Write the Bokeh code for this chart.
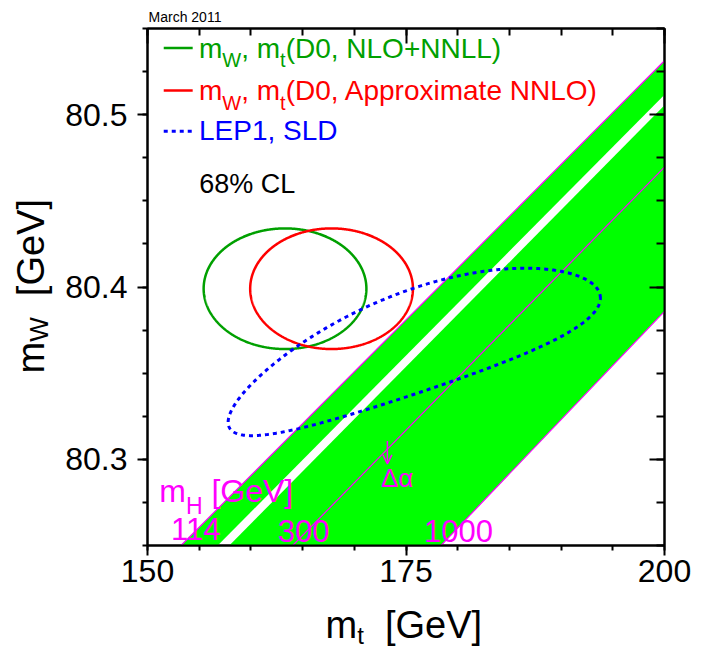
import numpy as np
from bokeh.plotting import figure
from bokeh.layouts import row, column
from bokeh.models import (Range1d, LinearAxis, FixedTicker, Label, Arrow, OpenHead,
                          CustomJSTickFormatter)
from bokeh.embed import file_html
from bokeh.resources import INLINE

# ---------------- data ----------------
mt_range = [150, 200]
mw_range = [80.25, 80.55]
mt_major_ticks = [150, 175, 200]
mt_minor_ticks = [150, 155, 160, 165, 170, 175, 180, 185, 190, 195, 200]
mw_major_ticks = [80.3, 80.4, 80.5]
mw_minor_ticks = [80.25, 80.275, 80.3, 80.325, 80.35, 80.375, 80.4, 80.425,
                  80.45, 80.475, 80.5, 80.525, 80.55]

# 68% CL contours: centre, half-extent in mt, half-extent in mW, correlation, bend
d0_nnll = dict(mt=163.3, mw=80.399, dmt=7.87, dmw=0.035, rho=0.0, bend=0.0)
d0_nnlo = dict(mt=167.8, mw=80.399, dmt=7.87, dmw=0.035, rho=0.0, bend=0.0)
lep_sld = dict(mt=175.8, mw=80.3576, dmt=18.0, dmw=0.0474, rho=0.76, bend=0.011)

# SM band edges: mt where edge meets mW=80.25, and mW where edge meets mt=200
band_edges = ["mH=114", "gap lower", "gap upper", "mH=300", "mH=1000"]
edge_mt_at_bottom = [153.24, 156.79, 157.91, 164.04, 178.38]
edge_mw_at_right = [80.5313, 80.5116, 80.5054, 80.4696, 80.3859]

mh_labels = ["114", "300", "1000"]
mh_label_mt = [152.27, 162.59, 176.74]
mh_label_mw = [80.2528, 80.2518, 80.2518]

# ---------------- style ----------------
FONT = "Liberation Sans"
GREEN_LINE = "#00a000"
GREEN_BAND = "#00ff00"
MAGENTA = "#ff00ff"
RED = "#ff0000"
BLUE = "#0000ff"
BASELINE_FIX = 0.37

FRAME = 517
PX_PER_MT = FRAME / (mt_range[1] - mt_range[0])
PX_PER_MW = FRAME / (mw_range[1] - mw_range[0])

AW = {' ': 278, ',': 278, '(': 333, ')': 333, '+': 584, '[': 278, ']': 278, '%': 889,
      'A': 667, 'C': 722, 'D': 722, 'E': 667, 'G': 778, 'H': 722, 'L': 556, 'M': 833,
      'N': 722, 'O': 778, 'P': 667, 'S': 667, 'V': 667, 'W': 944,
      'a': 556, 'c': 500, 'e': 556, 'h': 556, 'i': 222, 'm': 833, 'o': 556, 'p': 556,
      'r': 333, 't': 278, 'x': 500}


def text_width(s, size):
    return sum(AW.get(c, 556) for c in s) * size / 1000.0


def rich(fig, x, y, parts, color, kx, ky, angle=0):
    off = 0.0
    for txt, size, drop in parts:
        lead = len(txt) - len(txt.lstrip(" "))
        off += text_width(" " * lead, size)
        txt = txt.lstrip(" ")
        fix = BASELINE_FIX * size
        if angle == 0:
            lx, ly = x + off / kx, y + (fix - drop) / ky
        else:
            lx, ly = x + (drop - fix) / kx, y + off / ky
        fig.add_layout(Label(x=lx, y=ly, text=txt, text_font=FONT,
                             text_font_size=f"{size}px", text_color=color,
                             text_baseline="alphabetic", text_align="left",
                             angle=angle, angle_units="deg"))
        off += text_width(txt, size)


def blank_fig(w, h, x_range=None):
    f = figure(width=w, height=h,
               x_range=x_range if x_range is not None else Range1d(0, w),
               y_range=Range1d(0, h),
               output_backend="svg", toolbar_location=None,
               x_axis_type=None, y_axis_type=None,
               min_border_left=0, min_border_right=0, min_border_top=0, min_border_bottom=0)
    f.outline_line_color = None
    f.background_fill_color = "white"
    f.border_fill_color = "white"
    return f


# ---------------- main plot ----------------
YFIG_W = 60
MAIN_W = 640
LEFT_B = 87
TOP_H = 27
MAIN_TOP_B = 1
MAIN_BOTTOM_B = 55
MAIN_H = MAIN_TOP_B + FRAME + MAIN_BOTTOM_B
TOTAL_H = 652
X_H = TOTAL_H - TOP_H - MAIN_H
FRAME_LEFT_PAGE = YFIG_W + LEFT_B

p = figure(width=MAIN_W, height=MAIN_H,
           x_range=Range1d(*mt_range), y_range=Range1d(*mw_range),
           output_backend="svg", toolbar_location=None,
           min_border_left=LEFT_B, min_border_right=MAIN_W - LEFT_B - FRAME,
           min_border_top=MAIN_TOP_B, min_border_bottom=MAIN_BOTTOM_B)
p.grid.visible = False
p.outline_line_color = "black"
p.outline_line_width = 2
p.background_fill_color = "white"
p.border_fill_color = "white"

# ---- band ----
b = edge_mt_at_bottom
r = edge_mw_at_right
xs = [[b[0], mt_range[1], mt_range[1], b[1]],
      [b[2], mt_range[1], mt_range[1], b[4]]]
ys = [[mw_range[0], r[0], r[1], mw_range[0]],
      [mw_range[0], r[2], r[4], mw_range[0]]]
p.patches(xs, ys, fill_color=GREEN_BAND, line_color=None)
for i in (0, 3, 4):
    p.line([b[i], mt_range[1]], [mw_range[0], r[i]], line_color=MAGENTA, line_width=1.2)


# ---- contours ----
def contour(c):
    t = np.linspace(0, 2 * np.pi, 721)
    d = np.arccos(c["rho"])
    x = c["mt"] + c["dmt"] * np.cos(t)
    y = c["mw"] + c["dmw"] * np.cos(t - d) + c["bend"] * np.sin(t) ** 2
    return x, y


x, y = contour(d0_nnll)
p.line(x, y, line_color=GREEN_LINE, line_width=2.5)
x, y = contour(d0_nnlo)
p.line(x, y, line_color=RED, line_width=2.5)
x, y = contour(lep_sld)
p.line(x, y, line_color=BLUE, line_width=3, line_dash="4 4")

# ---- legend ----
p.line([151.57, 154.37], [80.5387, 80.5387], line_color=GREEN_LINE, line_width=2.5)
p.line([151.57, 154.37], [80.5140, 80.5140], line_color=RED, line_width=2.5)
p.line([151.57, 154.37], [80.4904, 80.4904], line_color=BLUE, line_width=3, line_dash="4 4")
K = (PX_PER_MT, PX_PER_MW)
rich(p, 154.98, 80.5326, [("m", 28, 0), ("W", 20, 9), (", m", 28, 0), ("t", 20, 9),
                           ("(D0, NLO+NNLL)", 28, 0)], GREEN_LINE, *K)
rich(p, 154.98, 80.5078, [("m", 28, 0), ("W", 20, 9), (", m", 28, 0), ("t", 20, 9),
                           ("(D0, Approximate NNLO)", 28, 0)], RED, *K)
rich(p, 154.98, 80.4850, [("LEP1, SLD", 28, 0)], BLUE, *K)
rich(p, 155.0, 80.4537, [("68% CL", 27, 0)], "black", *K)

# ---- mH annotations ----
rich(p, 151.14, 80.275, [("m", 32, 0), ("H", 23, 12), (" [GeV]", 32, 0)], MAGENTA, *K)
for lab, lx, ly in zip(mh_labels, mh_label_mt, mh_label_mw):
    rich(p, lx, ly, [(lab, 31, 0)], MAGENTA, *K)
p.add_layout(Arrow(x_start=173.2, y_start=80.3107, x_end=173.2, y_end=80.2974,
                   line_color=MAGENTA, line_width=1.5,
                   end=OpenHead(size=9, line_color=MAGENTA, line_width=1.5)))
rich(p, 172.58, 80.2837, [("Δα", 26, 0)], MAGENTA, *K)

# ---- axes ----
xt = FixedTicker(ticks=mt_major_ticks, minor_ticks=mt_minor_ticks)
yt = FixedTicker(ticks=mw_major_ticks, minor_ticks=mw_minor_ticks)
blank = CustomJSTickFormatter(code="return ''")


def style(ax, tin, tout, mtin, mtout):
    ax.axis_line_width = 2
    ax.major_tick_line_width = 2
    ax.minor_tick_line_width = 2
    ax.major_tick_in, ax.major_tick_out = tin, tout
    ax.minor_tick_in, ax.minor_tick_out = mtin, mtout
    ax.major_label_text_font = FONT
    ax.major_label_text_color = "black"


for ax in p.xaxis:
    ax.ticker = xt
    style(ax, 0, 10, 0, 5)
    ax.major_label_text_font_size = "32px"
    ax.major_label_standoff = 4
for ax in p.yaxis:
    ax.ticker = yt
    style(ax, 0, 10, 0, 5)
    ax.major_label_text_font_size = "32px"
    ax.major_label_standoff = 10

top = LinearAxis(ticker=xt, formatter=blank)
style(top, 15, 0, 7, 0)
top.major_label_text_font_size = "0px"
top.major_label_standoff = 0
p.add_layout(top, "above")

right = LinearAxis(ticker=yt, formatter=blank)
style(right, 15, 0, 8, 0)
right.major_label_text_font_size = "0px"
right.major_label_standoff = 0
p.add_layout(right, "right")

# ---------------- text strips around the plot ----------------
# y title strip: page-pixel coordinates (y measured upward from the page bottom)
yfig = blank_fig(YFIG_W, TOTAL_H)
rich(yfig, 45, TOTAL_H - 373, [("m", 38, 0), ("W", 26, 3), ("  [GeV]", 38, 0)],
     "black", 1.0, 1.0, angle=90)

# strips above / below share the mt scale of the main frame
topfig = blank_fig(MAIN_W, TOP_H, x_range=p.x_range)
rich(topfig, 150.1, TOP_H - 21.7, [("March 2011", 14, 0)], "black", PX_PER_MT, 1.0)

xfig = blank_fig(MAIN_W, X_H, x_range=p.x_range)
rich(xfig, 150 + (325 - FRAME_LEFT_PAGE) / PX_PER_MT, TOTAL_H - 639,
     [("m", 38, 0), ("t", 24, 5), ("  [GeV]", 38, 0)], "black", PX_PER_MT, 1.0)

layout = row(yfig, column(topfig, p, xfig))
open("out.html", "w").write(file_html(layout, INLINE))
